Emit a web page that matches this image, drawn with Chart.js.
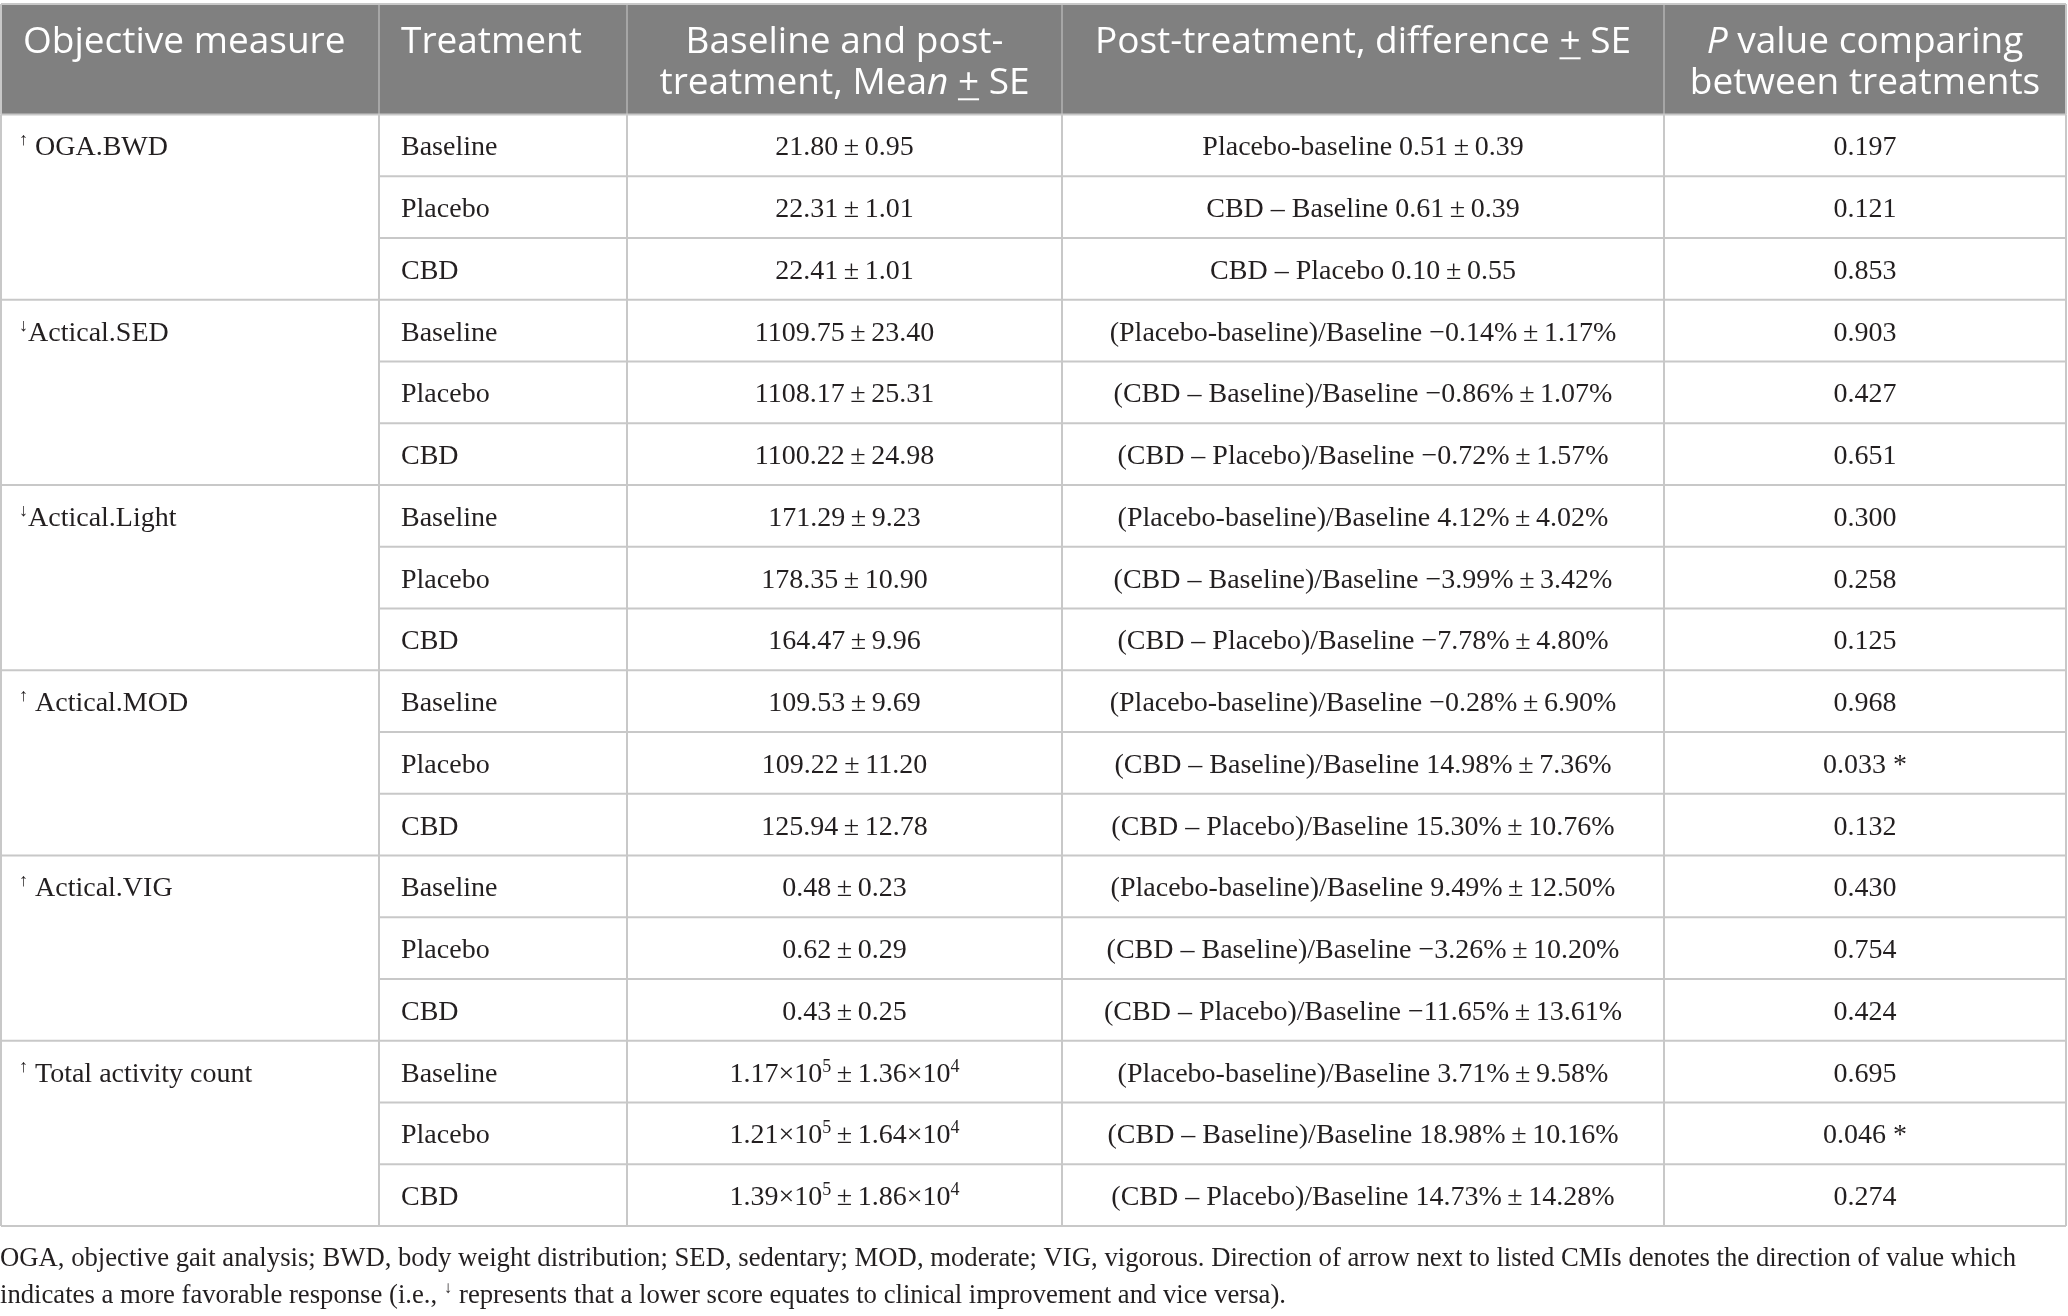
<!DOCTYPE html>
<html>
<head>
<meta charset="utf-8">
<script src="https://cdn.jsdelivr.net/npm/chart.js@4.4.1/dist/chart.umd.min.js"></script>
<style>
  html, body { margin: 0; padding: 0; background: #fff; }
  #wrap { width: 2068px; height: 1316px; position: relative; }
</style>
</head>
<body>
<div id="wrap"><canvas id="tbl"></canvas></div>
<script>
// markup in strings: _x_ italic, ~x~ underlined, ^x^ superscript
const headerLines = [
  ["Objective measure"],
  ["Treatment"],
  ["Baseline and post-", "treatment, Mea_n_ ~+~ SE"],
  ["Post-treatment, difference ~+~ SE"],
  ["_P_ value comparing", "between treatments"]
];

const measures = ["OGA.BWD", "Actical.SED", "Actical.Light", "Actical.MOD", "Actical.VIG", "Total activity count"];
const arrows = ["↑", "↓", "↓", "↑", "↑", "↑"];
const arrowGap = [true, false, false, true, true, true];

const treatments = ["Baseline", "Placebo", "CBD"];

const meanSE = [
  "21.80 ± 0.95", "22.31 ± 1.01", "22.41 ± 1.01",
  "1109.75 ± 23.40", "1108.17 ± 25.31", "1100.22 ± 24.98",
  "171.29 ± 9.23", "178.35 ± 10.90", "164.47 ± 9.96",
  "109.53 ± 9.69", "109.22 ± 11.20", "125.94 ± 12.78",
  "0.48 ± 0.23", "0.62 ± 0.29", "0.43 ± 0.25",
  "1.17×10^5^ ± 1.36×10^4^", "1.21×10^5^ ± 1.64×10^4^", "1.39×10^5^ ± 1.86×10^4^"
];

const differences = [
  "Placebo-baseline 0.51 ± 0.39", "CBD – Baseline 0.61 ± 0.39", "CBD – Placebo 0.10 ± 0.55",
  "(Placebo-baseline)/Baseline −0.14% ± 1.17%", "(CBD – Baseline)/Baseline −0.86% ± 1.07%", "(CBD – Placebo)/Baseline −0.72% ± 1.57%",
  "(Placebo-baseline)/Baseline 4.12% ± 4.02%", "(CBD – Baseline)/Baseline −3.99% ± 3.42%", "(CBD – Placebo)/Baseline −7.78% ± 4.80%",
  "(Placebo-baseline)/Baseline −0.28% ± 6.90%", "(CBD – Baseline)/Baseline 14.98% ± 7.36%", "(CBD – Placebo)/Baseline 15.30% ± 10.76%",
  "(Placebo-baseline)/Baseline 9.49% ± 12.50%", "(CBD – Baseline)/Baseline −3.26% ± 10.20%", "(CBD – Placebo)/Baseline −11.65% ± 13.61%",
  "(Placebo-baseline)/Baseline 3.71% ± 9.58%", "(CBD – Baseline)/Baseline 18.98% ± 10.16%", "(CBD – Placebo)/Baseline 14.73% ± 14.28%"
];

const pValues = [
  "0.197", "0.121", "0.853",
  "0.903", "0.427", "0.651",
  "0.300", "0.258", "0.125",
  "0.968", "0.033 *", "0.132",
  "0.430", "0.754", "0.424",
  "0.695", "0.046 *", "0.274"
];

const footnote = [
  "OGA, objective gait analysis; BWD, body weight distribution; SED, sedentary; MOD, moderate; VIG, vigorous. Direction of arrow next to listed CMIs denotes the direction of value which",
  "indicates a more favorable response (i.e., ^↓^ represents that a lower score equates to clinical improvement and vice versa)."
];

// layout (x in px of the 2068 wide page, y in row units)
const colEdges = [1, 379, 627, 1062, 1664, 2066];
const colAlign = ["left", "left", "center", "center", "center"];
const colPad = [18, 22];
const nRows = meanSE.length;
const headTop = -1.79, headBase1 = -0.988, headBase2 = -0.324;
const footLines = [18.5, 19.1];

const HEAD_FONT = '"Open Sans", "Noto Sans", sans-serif';
const BODY_FONT = '"Liberation Serif", "DejaVu Serif", serif';

function parseRuns(str) {
  str = str.replace(/ ± /g, "\u2009±\u2009");
  return str.split(/(_[^_]+_|~[^~]+~|\^[^^]+\^)/).filter(s => s.length).map(s => {
    if (s[0] === "_") return { t: s.slice(1, -1), it: true };
    if (s[0] === "~") return { t: s.slice(1, -1), u: true };
    if (s[0] === "^") return { t: s.slice(1, -1), sup: true };
    return { t: s };
  });
}

function fontFor(run, size, family) {
  const sz = run.sup ? Math.round(size * 0.64) : size;
  return (run.it ? "italic " : "") + sz + "px " + family;
}

function drawText(ctx, str, x, y, align, size, family, color) {
  const runs = parseRuns(str);
  let total = 0;
  runs.forEach(r => { ctx.font = fontFor(r, size, family); r.w = ctx.measureText(r.t).width; total += r.w; });
  let cx = align === "center" ? x - total / 2 : x;
  ctx.fillStyle = color;
  ctx.strokeStyle = color;
  ctx.textAlign = "left";
  ctx.textBaseline = "alphabetic";
  runs.forEach(r => {
    ctx.font = fontFor(r, size, family);
    const by = r.sup ? y - size * 0.36 : y;
    ctx.fillText(r.t, cx, by);
    if (r.u) {
      ctx.lineWidth = 2;
      ctx.beginPath();
      ctx.moveTo(cx, y + size * 0.13);
      ctx.lineTo(cx + r.w, y + size * 0.13);
      ctx.stroke();
    }
    cx += r.w;
  });
}

const tablePlugin = {
  id: "tablePlugin",
  afterDraw(chart) {
    const ctx = chart.ctx;
    const X = v => chart.scales.x.getPixelForValue(v);
    const Y = v => chart.scales.y.getPixelForValue(v);
    const left = X(colEdges[0]), right = X(colEdges[colEdges.length - 1]);
    ctx.save();

    // header band
    ctx.fillStyle = "#808080";
    ctx.fillRect(left, Y(headTop), right - left, Y(0) - Y(headTop));
    ctx.strokeStyle = "#a6a6a6";
    ctx.lineWidth = 2;
    for (let c = 1; c < colEdges.length - 1; c++) {
      ctx.beginPath();
      ctx.moveTo(X(colEdges[c]), Y(headTop));
      ctx.lineTo(X(colEdges[c]), Y(0));
      ctx.stroke();
    }

    // grid of the body
    ctx.strokeStyle = "#c8c8c8";
    ctx.lineWidth = 2;
    for (let r = 0; r <= nRows; r++) {
      const startCol = (r % 3 === 0) ? 0 : 1;
      ctx.beginPath();
      ctx.moveTo(X(colEdges[startCol]), Y(r));
      ctx.lineTo(right, Y(r));
      ctx.stroke();
    }
    colEdges.forEach(e => {
      ctx.beginPath();
      ctx.moveTo(X(e), Y(0));
      ctx.lineTo(X(e), Y(nRows));
      ctx.stroke();
    });
    ctx.beginPath();
    ctx.moveTo(left, Y(headTop));
    ctx.lineTo(right, Y(headTop));
    ctx.moveTo(left, Y(headTop));
    ctx.lineTo(left, Y(0));
    ctx.moveTo(right, Y(headTop));
    ctx.lineTo(right, Y(0));
    ctx.stroke();

    const cellX = c => colAlign[c] === "center" ? X((colEdges[c] + colEdges[c + 1]) / 2) : X(colEdges[c] + 22);

    // header text
    headerLines.forEach((lines, c) => {
      lines.forEach((ln, k) => {
        const yb = Y(k === 0 ? headBase1 : headBase2);
        drawText(ctx, ln, cellX(c), yb, colAlign[c], 37, HEAD_FONT, "#ffffff");
      });
    });

    // body text
    const ink = "#231f20";
    const size = 28;
    const off = 10;
    measures.forEach((m, g) => {
      const label = "^" + arrows[g] + "^" + (arrowGap[g] ? " " : "") + m;
      drawText(ctx, label, X(colEdges[0] + colPad[0]), Y(g * 3 + 0.5) + off, "left", size, BODY_FONT, ink);
    });
    for (let r = 0; r < nRows; r++) {
      const yc = Y(r + 0.5) + off;
      drawText(ctx, treatments[r % 3], X(colEdges[1] + colPad[1]), yc, "left", size, BODY_FONT, ink);
      drawText(ctx, meanSE[r], cellX(2), yc, "center", size, BODY_FONT, ink);
      drawText(ctx, differences[r], cellX(3), yc, "center", size, BODY_FONT, ink);
      drawText(ctx, pValues[r], cellX(4), yc, "center", size, BODY_FONT, ink);
    }

    // footnote
    footnote.forEach((ln, k) => {
      drawText(ctx, ln, X(0), Y(footLines[k]) + 9, "left", 26.7, BODY_FONT, ink);
    });
    ctx.restore();
  }
};

new Chart(document.getElementById("tbl"), {
  type: "scatter",
  data: { datasets: [{ data: [], pointRadius: 0 }] },
  options: {
    responsive: true,
    maintainAspectRatio: false,
    animation: false,
    devicePixelRatio: 1,
    layout: { padding: 0 },
    plugins: { legend: { display: false }, tooltip: { enabled: false } },
    scales: {
      x: { type: "linear", display: false, min: 0, max: 2068 },
      y: { type: "linear", display: false, min: -114.5 / 61.75, max: (1316 - 114.5) / 61.75, reverse: true }
    }
  },
  plugins: [tablePlugin]
});
</script>
</body>
</html>
